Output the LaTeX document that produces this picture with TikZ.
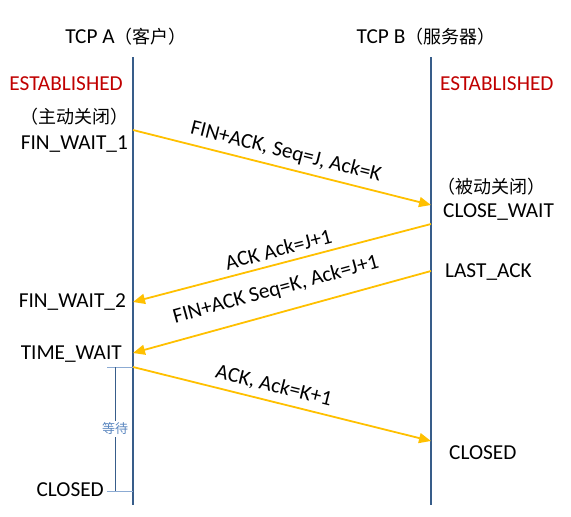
\documentclass[tikz,border=0pt]{standalone}
\usepackage{fontspec}
\setmainfont{Carlito}
\newfontfamily\cjk{Noto Sans CJK SC}
\newcommand{\zh}[1]{{\cjk\fontsize{18}{22}\selectfont #1}}
\usetikzlibrary{arrows.meta}
\definecolor{lineblue}{HTML}{385D8A}
\definecolor{msgorange}{HTML}{FFC000}
\definecolor{estred}{HTML}{C00000}
\definecolor{waitblue}{HTML}{5B87C0}

\begin{document}
\begin{tikzpicture}[
    x=1pt, y=-1pt,
    every node/.style={inner sep=0pt, font=\fontsize{21.3}{25}\selectfont},
    lifeline/.style={draw=lineblue, line width=2pt},
    msg/.style={draw=msgorange, line width=1.8pt, -{Triangle[length=12pt, width=10pt]}},
    est/.style={text=estred},
    lbl/.style={midway, sloped, above=6pt},
    waitline/.style={draw=lineblue, line width=1pt}
]
\useasboundingbox (0,0) rectangle (571,517);

% hosts and lifelines
\node (hostA) at (126,37) {TCP A\zh{（客户）}};
\node (hostB) at (426,37) {TCP B\zh{（服务器）}};
\coordinate (aTop) at (133,57);
\coordinate (aBot) at (133,505);
\coordinate (bTop) at (431,57);
\coordinate (bBot) at (431,505);
\draw [lifeline] (aTop) -- (aBot);
\draw [lifeline] (bTop) -- (bBot);

% states of A
\node [est, anchor=east] (estA) at (123,84) {ESTABLISHED};
\node [anchor=east] (activeA) at (129,117) {\zh{（主动关闭）}};
\node [anchor=east] (fw1) at (128,144) {FIN\_WAIT\_1};
\node [anchor=east] (fw2) at (126,302) {FIN\_WAIT\_2};
\node [anchor=east] (tw) at (122,354) {TIME\_WAIT};
\node [anchor=east] (closedA) at (104,490) {CLOSED};

% states of B
\node [est, anchor=west] (estB) at (440,84) {ESTABLISHED};
\node [anchor=west] (passiveB) at (437,187) {\zh{（被动关闭）}};
\node [anchor=west] (cw) at (443,212) {CLOSE\_WAIT};
\node [anchor=west] (lastack) at (445,272) {LAST\_ACK};
\node [anchor=west] (closedB) at (449,453) {CLOSED};

% message ends
\coordinate (m1s) at (133,130);
\coordinate (m1e) at (431,205);
\coordinate (m2s) at (431,224);
\coordinate (m2e) at (133,302);
\coordinate (m3s) at (431,271);
\coordinate (m3e) at (133,353);
\coordinate (m4s) at (133,367);
\coordinate (m4e) at (431,441);

\draw [msg] (m1s) -- node [lbl] {FIN+ACK, Seq=J, Ack=K} (m1e);
\draw [msg] (m2s) -- node [lbl] {ACK Ack=J+1} (m2e);
\draw [msg] (m3s) -- node [lbl, above=7pt] {FIN+ACK Seq=K, Ack=J+1} (m3e);
\draw [msg] (m4s) -- node [lbl, pos=0.46] {ACK, Ack=K+1} (m4e);

% waiting time
\coordinate (wTop) at (107,367);
\coordinate (wBot) at (107,491);
\coordinate (wTopA) at (133,367);
\coordinate (wBotA) at (133,491);
\draw [waitline, draw=waitblue!70] (wTop) -- (wTopA);
\draw [waitline, draw=waitblue!70] (wBot) -- (wBotA);
\draw [waitline] (115,367) -- (115,491)
    node [pos=0.5, fill=white, inner sep=2pt, text=waitblue, font=\cjk\fontsize{13}{15}\selectfont] (waitlbl) {等待};

\end{tikzpicture}
\end{document}
